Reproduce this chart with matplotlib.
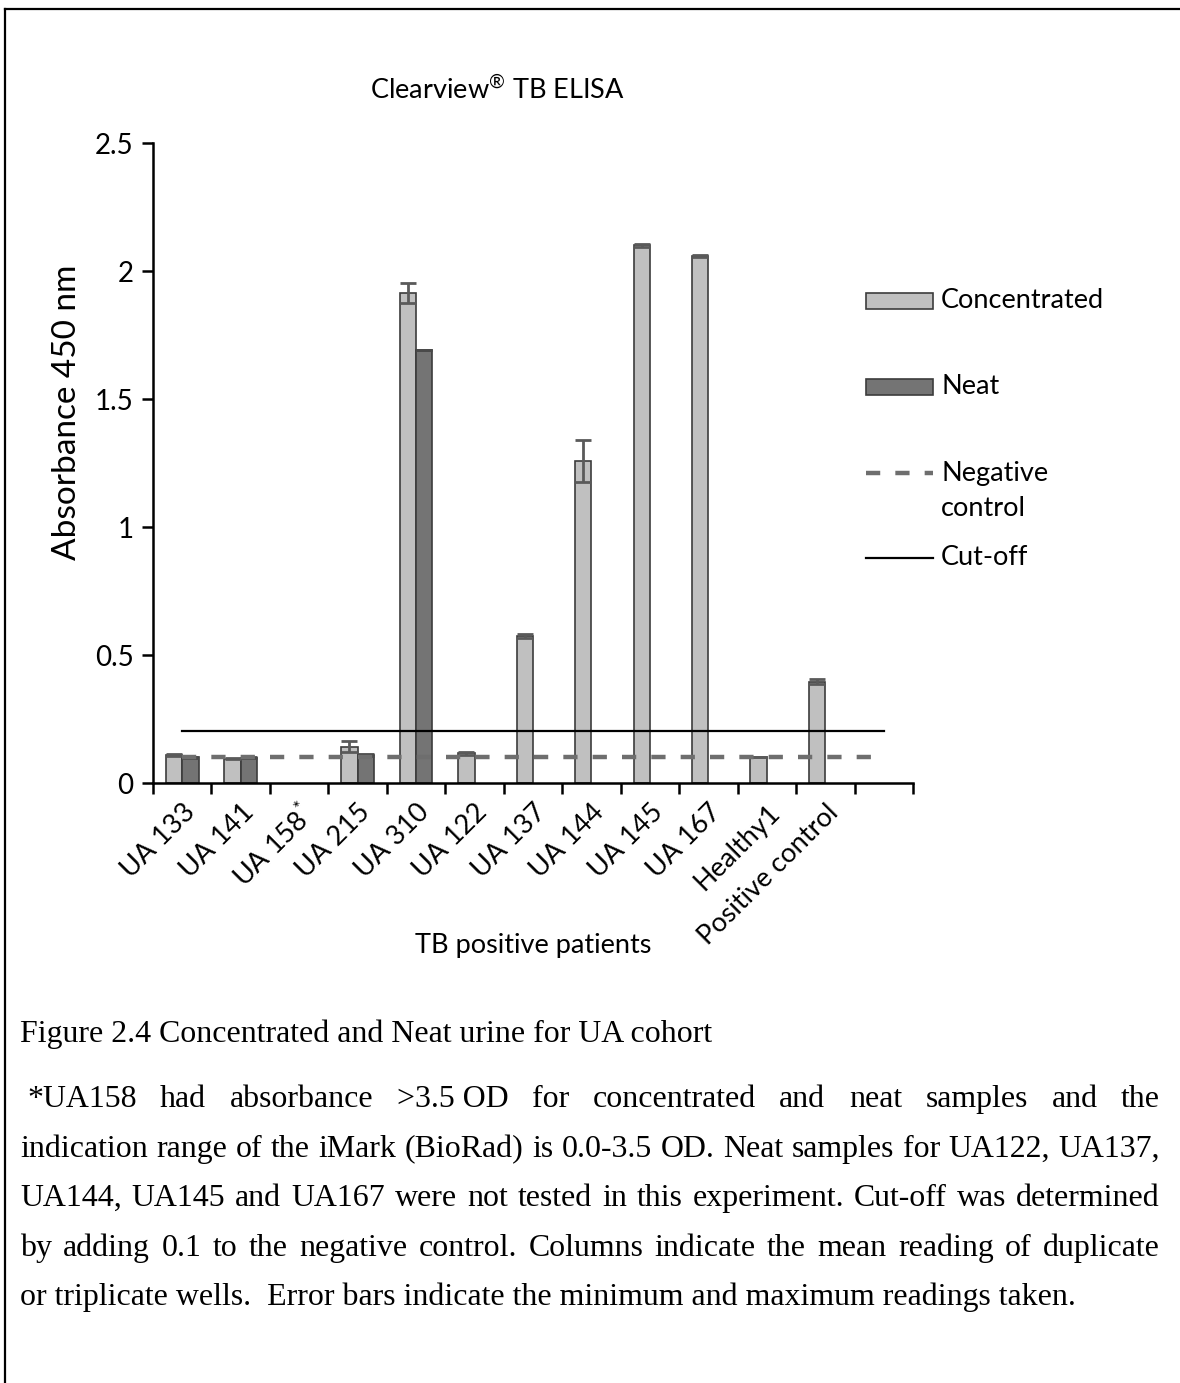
import numpy as np
import matplotlib
matplotlib.use("Agg")
import matplotlib.pyplot as plt
from matplotlib.patches import Rectangle
from matplotlib.lines import Line2D

# samples on the x axis (last slot is empty, as in the original sheet)
categories = ["UA 133", "UA 141", "UA 158$^{\\mathrm{*}}$", "UA 215", "UA 310", "UA 122", "UA 137",
              "UA 144", "UA 145", "UA 167", "Healthy1", "Positive control", ""]

nan = np.nan
# concentrated urine: mean, min, max absorbance
conc = [0.110, 0.095, nan, 0.142, 1.913, 0.116, 0.574, 1.258, 2.100, 2.060, 0.100, 0.396, nan]
conc_min = [0.105, 0.093, nan, 0.120, 1.876, 0.110, 0.566, 1.176, 2.093, 2.056, 0.100, 0.388, nan]
conc_max = [0.115, 0.097, nan, 0.165, 1.952, 0.123, 0.581, 1.340, 2.107, 2.064, 0.100, 0.405, nan]

# neat urine
neat = [0.100, 0.098, nan, 0.110, 1.690, nan, nan, nan, nan, nan, nan, nan, nan]
neat_min = [0.098, 0.096, nan, 0.107, 1.690, nan, nan, nan, nan, nan, nan, nan, nan]
neat_max = [0.103, 0.101, nan, 0.112, 1.690, nan, nan, nan, nan, nan, nan, nan, nan]

neg_control = 0.102
cut_off = neg_control + 0.1

chart_font = "Lato"
caption_font = "Liberation Serif"
plt.rcParams["font.family"] = chart_font
plt.rcParams["mathtext.fontset"] = "custom"
plt.rcParams["mathtext.rm"] = chart_font

W, H = 1180, 1383
fig = plt.figure(figsize=(W / 100, H / 100), dpi=100)


def fx(px):
    return px / W


def fy(py):
    return 1 - py / H


ax = fig.add_axes([fx(153), fy(783), fx(913) - fx(153), fy(143) - fy(783)])

x = np.arange(len(categories))
conc = np.array(conc)
neat = np.array(neat)
conc_err = [conc - np.array(conc_min), np.array(conc_max) - conc]
neat_err = [neat - np.array(neat_min), np.array(neat_max) - neat]

bw = 0.28
ax.bar(x - bw / 2, conc, bw, color="#c0c0c0", edgecolor="#3c3c3c", linewidth=1.2,
       yerr=conc_err, error_kw=dict(ecolor="#5a5a5a", elinewidth=2, capsize=6, capthick=2), zorder=2)
ax.bar(x + bw / 2, neat, bw, color="#747474", edgecolor="#3c3c3c", linewidth=1.2,
       yerr=neat_err, error_kw=dict(ecolor="#4a4a4a", elinewidth=2, capsize=6, capthick=2), zorder=2)

ax.plot(x, [neg_control] * len(x), color="#6e6e6e", lw=3.2, dashes=(3.2, 3.4), zorder=3)
ax.plot(x, [cut_off] * len(x), color="black", lw=1.6, zorder=3)

ax.set_xlim(-0.5, len(categories) - 0.5)
ax.set_ylim(0, 2.5)
ax.set_yticks([0, 0.5, 1, 1.5, 2, 2.5])
ax.set_yticklabels(["0", "0.5", "1", "1.5", "2", "2.5"])
ax.set_xticks(np.arange(-0.5, len(categories), 1))
ax.set_xticklabels([])
ax.set_xticks(x, minor=True)
ax.set_xticklabels(categories, minor=True, rotation=45, ha="right",
                   rotation_mode="anchor", fontsize=19.5)
ax.tick_params(axis="x", which="minor", length=0, pad=12)
ax.tick_params(axis="x", which="major", length=8, width=1.8)
ax.tick_params(axis="y", length=8, width=1.8, labelsize=20, pad=6)
for s in ["top", "right"]:
    ax.spines[s].set_visible(False)
for s in ["left", "bottom"]:
    ax.spines[s].set_linewidth(1.8)

fig.text(fx(497), fy(90), "Clearview$^{\u00ae}$ TB ELISA", fontsize=19.5, ha="center", va="center")
fig.text(fx(67), fy(412), "Absorbance 450 nm", fontsize=24, rotation=90, ha="center", va="center")
fig.text(fx(533), fy(945), "TB positive patients", fontsize=19.5, ha="center", va="center")

# legend, drawn by hand so the spacing follows the original
fig.add_artist(Rectangle((fx(866), fy(309)), fx(67), fy(293) - fy(309), transform=fig.transFigure,
                         facecolor="#c0c0c0", edgecolor="#3c3c3c", lw=1.2))
fig.add_artist(Rectangle((fx(866), fy(395)), fx(67), fy(379) - fy(395), transform=fig.transFigure,
                         facecolor="#747474", edgecolor="#3c3c3c", lw=1.2))
fig.add_artist(Line2D([fx(866), fx(933)], [fy(473), fy(473)], transform=fig.transFigure,
                      color="#6e6e6e", lw=3.2, dashes=(3.2, 3.4)))
fig.add_artist(Line2D([fx(866), fx(933)], [fy(558), fy(558)], transform=fig.transFigure,
                      color="black", lw=1.6))
leg_size = 19.5
fig.text(fx(941), fy(301), "Concentrated", fontsize=leg_size, va="center")
fig.text(fx(941), fy(387), "Neat", fontsize=leg_size, va="center")
fig.text(fx(941), fy(473), "Negative", fontsize=leg_size, va="center")
fig.text(fx(941), fy(509), "control", fontsize=leg_size, va="center")
fig.text(fx(941), fy(558), "Cut-off", fontsize=leg_size, va="center")

# page border (top and left only are visible)
fig.add_artist(Line2D([fx(5), fx(W)], [fy(9), fy(9)], transform=fig.transFigure, color="black", lw=1.6))
fig.add_artist(Line2D([fx(5), fx(5)], [fy(9), fy(H)], transform=fig.transFigure, color="black", lw=1.6))

# caption
renderer = fig.canvas.get_renderer()


def width_of(s, size):
    t = fig.text(0, 0, s, fontsize=size, family=caption_font)
    w = t.get_window_extent(renderer).width
    t.remove()
    return w


last_line = "or triplicate wells.  Error bars indicate the minimum and maximum readings taken."
cap_size = 20 * 1058 / width_of(last_line, 20)

fig.text(fx(20), fy(1042), "Figure 2.4 Concentrated and Neat urine for UA cohort",
         fontsize=cap_size, family=caption_font, va="baseline")

para = [
    "*UA158 had absorbance >3.5\u00a0OD for concentrated and neat samples and the",
    "indication range of the iMark (BioRad) is 0.0-3.5 OD. Neat samples for UA122, UA137,",
    "UA144, UA145 and UA167 were not tested in this experiment. Cut-off was determined",
    "by adding 0.1 to the negative control. Columns indicate the mean reading of duplicate",
]
left, right = 20, 1160
base = [1107, 1157, 1206, 1256]
for line, b in zip(para, base):
    words = line.split(" ")
    x0 = left + (7 if line.startswith("*") else 0)
    ws = [width_of(w, cap_size) for w in words]
    gap = (right - x0 - sum(ws)) / (len(words) - 1)
    for w, wd in zip(words, ws):
        fig.text(fx(x0), fy(b), w, fontsize=cap_size, family=caption_font, va="baseline")
        x0 += wd + gap
fig.text(fx(left), fy(1305), last_line, fontsize=cap_size, family=caption_font, va="baseline")

fig.savefig("out.png", dpi=100)
